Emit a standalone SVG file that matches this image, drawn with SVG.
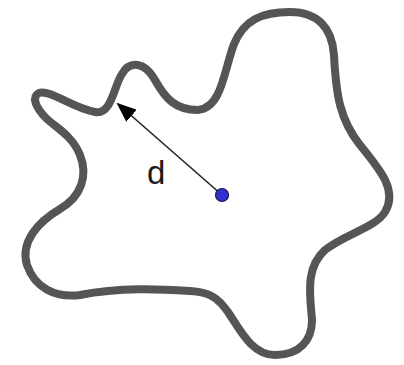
<svg xmlns="http://www.w3.org/2000/svg" width="404" height="365" viewBox="0 0 404 365">
<defs>
<style>
.blob{fill:none;stroke:#555;stroke-width:8;stroke-linecap:round;stroke-linejoin:round}
.conn{stroke:#222;stroke-width:1.6;fill:none}
.lbl{font-family:"Liberation Sans",Arial,sans-serif;font-size:33px;fill:#1a1a1a}
</style>
<marker id="ah" markerWidth="20" markerHeight="16" refX="18" refY="8" orient="auto" markerUnits="userSpaceOnUse">
<path d="M0,0 L20,8 L0,16 Z" fill="#000"/>
</marker>
</defs>
<g id="shape">
<path class="blob" d="M39,93 C50,89 72,108 95,112 C112,115 114,85 122,74 C130,60 145,62 155,80 C165,98 175,110 198,110 C222,108 224,70 234,44 C244,20 262,12 290,12 C318,12 332,28 334,55 C336,95 340,120 360,145 C380,170 398,190 385,212 C375,228 345,234 325,250 C305,268 310,295 312,320 C312,340 300,355 275,355 C252,355 240,330 228,312 C218,298 210,292 190,291 C160,289 120,287 80,295 C55,298 35,288 27,265 C20,242 38,222 60,209 C82,196 88,175 80,155 C72,135 55,127 46,118 C36,108 31,97 39,93 Z"/>
</g>
<g id="connectors">
<line class="conn" x1="222" y1="195" x2="118" y2="104" marker-end="url(#ah)"/>
</g>
<g id="center">
<circle cx="222" cy="195" r="6.5" fill="#3030d0" stroke="#1a1a4a" stroke-width="1.2"/>
</g>
<g id="label">
<text class="lbl" x="147" y="184">d</text>
</g>
</svg>
